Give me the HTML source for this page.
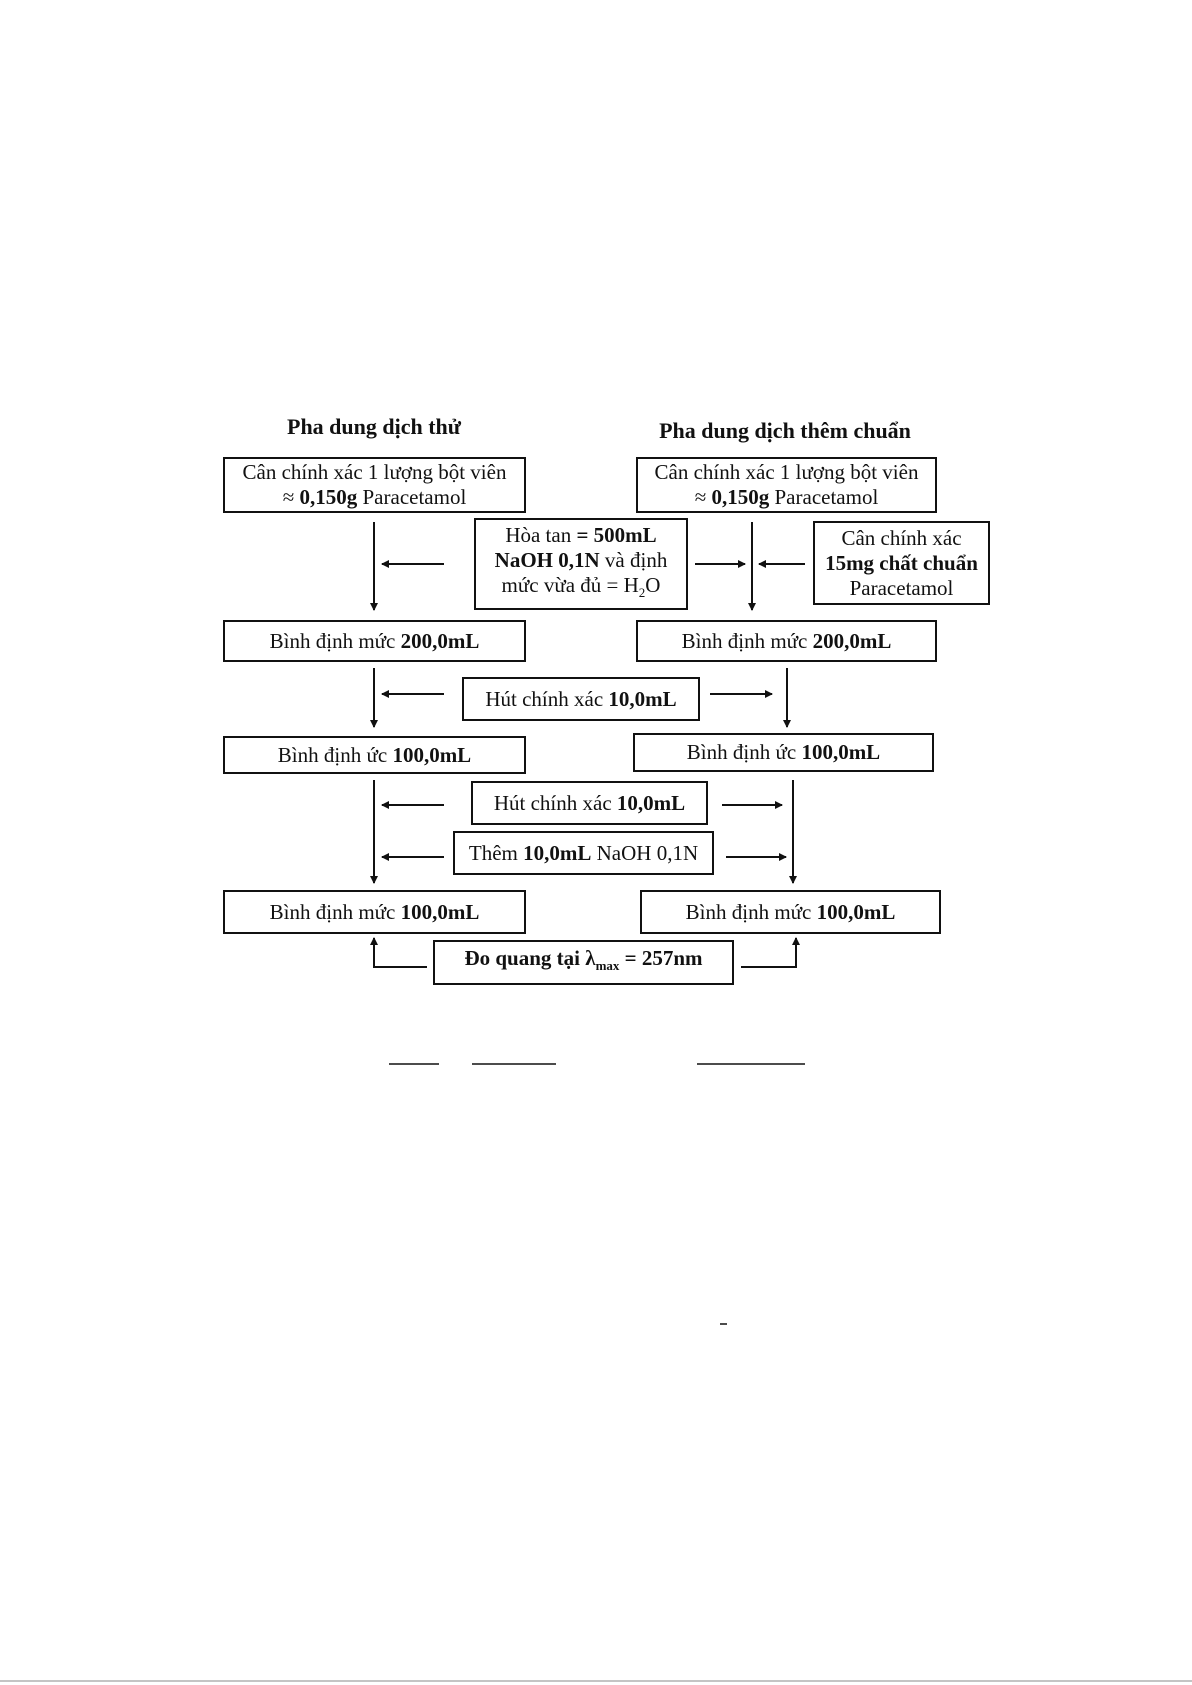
<!DOCTYPE html>
<html><head><meta charset="utf-8"><style>
body{margin:0;width:1192px;height:1685px;background:#fff;position:relative;overflow:hidden;font-family:"Liberation Serif",serif;color:#111}
.b{position:absolute;border:2px solid #111;box-sizing:border-box;display:flex;flex-direction:column;justify-content:center;align-items:center;text-align:center;font-size:21px;line-height:25px;white-space:nowrap}
.t{position:absolute;font-weight:bold;font-size:22px;white-space:nowrap;transform:translateX(-50%)}
svg{position:absolute;left:0;top:0}
</style></head><body>
<div class="t" style="left:374px;top:414px">Pha dung dịch thử</div>
<div class="t" style="left:785px;top:418px">Pha dung dịch thêm chuẩn</div>

<div class="b" style="left:223px;top:457px;width:303px;height:56px"><div>Cân chính xác 1 lượng bột viên</div><div>≈ <b>0,150g</b> Paracetamol</div></div>
<div class="b" style="left:636px;top:457px;width:301px;height:56px"><div>Cân chính xác 1 lượng bột viên</div><div>≈ <b>0,150g</b> Paracetamol</div></div>
<div class="b" style="left:474px;top:518px;width:214px;height:92px"><div>Hòa tan <b>= 500mL</b></div><div><b>NaOH 0,1N</b> và định</div><div>mức vừa đủ = H<sub style="font-size:13px">2</sub>O</div></div>
<div class="b" style="left:813px;top:521px;width:177px;height:84px"><div>Cân chính xác</div><div><b>15mg chất chuẩn</b></div><div>Paracetamol</div></div>

<div class="b" style="left:223px;top:620px;width:303px;height:42px">
<div>Bình định mức <b>200,0mL</b></div></div>
<div class="b" style="left:636px;top:620px;width:301px;height:42px"><div>Bình định mức <b>200,0mL</b></div></div>
<div class="b" style="left:462px;top:677px;width:238px;height:44px"><div>Hút chính xác <b>10,0mL</b></div></div>

<div class="b" style="left:223px;top:736px;width:303px;height:38px"><div>Bình định ức <b>100,0mL</b></div></div>
<div class="b" style="left:633px;top:733px;width:301px;height:39px"><div>Bình định ức <b>100,0mL</b></div></div>
<div class="b" style="left:471px;top:781px;width:237px;height:44px"><div>Hút chính xác <b>10,0mL</b></div></div>
<div class="b" style="left:453px;top:831px;width:261px;height:44px"><div>Thêm <b>10,0mL</b> NaOH 0,1N</div></div>

<div class="b" style="left:223px;top:890px;width:303px;height:44px"><div>Bình định mức <b>100,0mL</b></div></div>
<div class="b" style="left:640px;top:890px;width:301px;height:44px"><div>Bình định mức <b>100,0mL</b></div></div>
<div class="b" style="left:433px;top:940px;width:301px;height:45px"><div><b>Đo quang tại λ<sub style="font-size:13px">max</sub> = 257nm</b></div></div>

<svg width="1192" height="1685">
<defs><marker id="a" markerWidth="8" markerHeight="8" refX="7" refY="4" orient="auto" markerUnits="userSpaceOnUse"><path d="M0,0 L8,4 L0,8 z" fill="#111"/></marker></defs>
<g stroke="#111" stroke-width="2" fill="none" marker-end="url(#a)">
<line x1="374" y1="522" x2="374" y2="610"/>
<line x1="752" y1="522" x2="752" y2="610"/>
<line x1="444" y1="564" x2="382" y2="564"/>
<line x1="695" y1="564" x2="745" y2="564"/>
<line x1="805" y1="564" x2="759" y2="564"/>
<line x1="374" y1="668" x2="374" y2="727"/>
<line x1="787" y1="668" x2="787" y2="727"/>
<line x1="444" y1="694" x2="382" y2="694"/>
<line x1="710" y1="694" x2="772" y2="694"/>
<line x1="374" y1="780" x2="374" y2="883"/>
<line x1="793" y1="780" x2="793" y2="883"/>
<line x1="444" y1="805" x2="382" y2="805"/>
<line x1="722" y1="805" x2="782" y2="805"/>
<line x1="444" y1="857" x2="382" y2="857"/>
<line x1="726" y1="857" x2="786" y2="857"/>
<polyline points="427,967 374,967 374,938"/>
<polyline points="741,967 796,967 796,938"/>
</g>
<g stroke="#111" stroke-width="1.5">
<line x1="389" y1="1064" x2="439" y2="1064"/>
<line x1="472" y1="1064" x2="556" y2="1064"/>
<line x1="697" y1="1064" x2="805" y2="1064"/>
<line x1="720" y1="1324" x2="727" y2="1324"/>
</g>
<line x1="0" y1="1681" x2="1192" y2="1681" stroke="#888" stroke-width="1"/>
</svg>
</body></html>
